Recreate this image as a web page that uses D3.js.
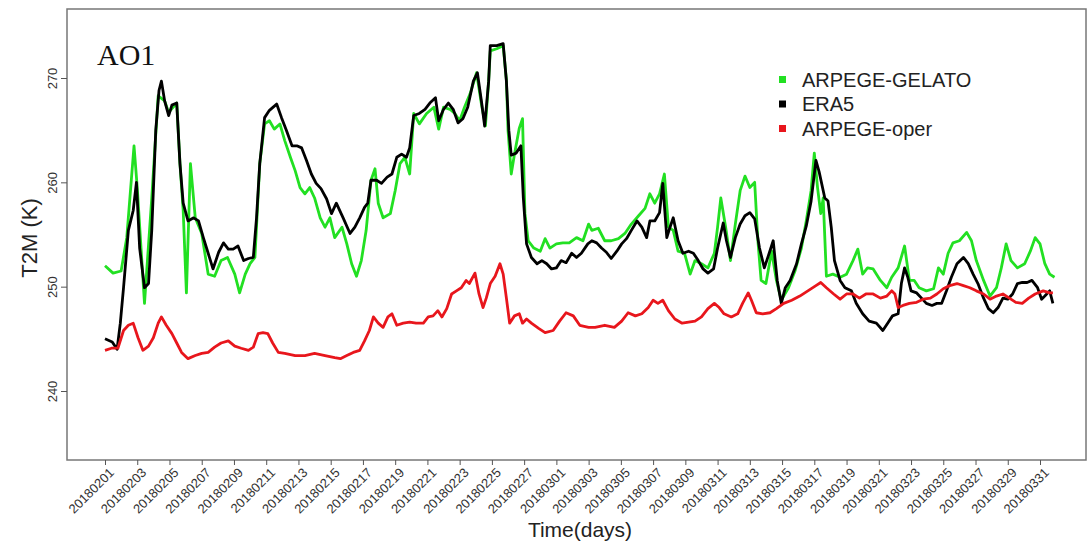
<!DOCTYPE html>
<html>
<head>
<meta charset="utf-8">
<script src="https://cdn.jsdelivr.net/npm/d3@7"></script>
<style>
	body { margin: 0; background: #fff; }
	text { font-family: "Liberation Sans", Arial, sans-serif; }
	text.serif { font-family: "Liberation Serif", "Times New Roman", serif; }
</style>
</head>
<body>
<div id="chart"></div>
<script>
'use strict';

// days since 20180201 00h, T2M in K
var gelato = [[0,252.0],[0.5,251.3],[1.0,251.5],[1.35,254.7],[1.8,263.5],[2.0,259.5],[2.45,248.4],[2.9,258.5],[3.3,268.3],[3.7,267.8],[3.95,266.7],[4.45,267.6],[4.65,261.8],[4.85,257.3],[5.05,249.4],[5.3,261.8],[5.6,256.6],[6.0,255.1],[6.4,251.2],[6.8,251.0],[7.2,252.5],[7.6,252.8],[8.05,251.2],[8.35,249.4],[8.7,251.2],[9.0,252.2],[9.3,252.8],[9.6,261.8],[9.9,265.6],[10.2,265.9],[10.5,265.1],[10.85,265.6],[11.15,264.0],[11.5,262.4],[11.8,261.1],[12.1,259.5],[12.4,258.9],[12.7,259.5],[13.0,258.5],[13.35,256.6],[13.65,255.7],[13.95,256.6],[14.25,254.7],[14.7,255.7],[15.0,254.1],[15.3,252.2],[15.6,251.0],[15.9,252.5],[16.2,255.4],[16.5,260.2],[16.75,261.3],[16.95,258.0],[17.25,256.6],[17.7,257.0],[18.0,259.2],[18.3,261.8],[18.6,262.4],[18.9,260.8],[19.15,266.6],[19.5,265.6],[19.95,266.6],[20.4,267.2],[20.7,265.1],[21.0,267.2],[21.4,267.0],[21.7,266.6],[22.0,265.9],[22.3,267.2],[22.65,268.5],[22.85,269.5],[23.05,270.5],[23.35,267.5],[23.6,265.4],[23.8,269.8],[23.9,272.6],[24.3,272.8],[24.7,273.1],[24.9,269.8],[25.0,265.0],[25.2,260.8],[25.4,262.7],[25.7,265.2],[25.9,266.1],[26.05,257.0],[26.25,254.4],[26.6,253.7],[27.0,253.4],[27.3,254.6],[27.6,253.7],[28.0,254.1],[28.4,254.2],[28.8,254.2],[29.25,254.7],[29.65,254.4],[30.0,256.0],[30.2,255.4],[30.6,255.6],[31.0,254.4],[31.4,254.4],[31.85,254.6],[32.25,255.1],[32.65,256.0],[33.1,256.8],[33.5,257.5],[33.8,258.9],[34.1,258.0],[34.4,258.9],[34.7,260.8],[34.95,255.7],[35.25,255.4],[35.55,253.4],[35.95,253.2],[36.3,251.2],[36.6,252.5],[37.0,252.2],[37.4,251.8],[37.8,253.2],[38.0,255.7],[38.2,258.5],[38.5,255.7],[38.8,252.5],[39.1,256.0],[39.4,259.2],[39.7,260.6],[40.0,259.5],[40.3,260.0],[40.5,254.4],[40.7,250.6],[41.0,250.3],[41.35,253.4],[41.65,250.6],[41.95,248.7],[42.4,249.9],[42.8,251.5],[43.2,253.7],[43.5,256.3],[43.8,259.2],[44.0,262.8],[44.2,259.5],[44.4,257.0],[44.55,258.5],[44.75,251.0],[45.15,251.2],[45.6,250.9],[46.0,251.2],[46.4,252.5],[46.7,253.6],[47.0,251.2],[47.3,251.8],[47.65,251.7],[48.1,250.6],[48.5,249.9],[48.8,250.9],[49.2,251.8],[49.6,253.9],[49.9,250.6],[50.2,250.6],[50.5,249.9],[50.95,249.6],[51.4,249.8],[51.7,251.8],[52.0,251.2],[52.3,253.2],[52.6,254.2],[53.0,254.4],[53.45,255.2],[53.75,254.4],[54.05,252.5],[54.5,250.6],[54.9,249.1],[55.3,249.9],[55.6,251.8],[55.9,254.1],[56.2,252.5],[56.6,251.8],[57.05,252.2],[57.4,253.4],[57.7,254.7],[58.0,254.1],[58.3,252.2],[58.6,251.2],[58.9,250.9]];

var era5 = [[0,245.0],[0.45,244.7],[0.75,244.0],[0.95,246.5],[1.15,249.9],[1.45,255.4],[1.75,257.3],[1.95,260.0],[2.15,253.7],[2.45,249.9],[2.7,250.3],[2.9,255.4],[3.15,265.0],[3.35,268.8],[3.5,269.7],[3.7,267.8],[3.95,266.4],[4.15,267.4],[4.45,267.6],[4.65,261.8],[4.85,258.0],[5.15,256.3],[5.5,256.6],[5.8,256.3],[6.1,254.7],[6.4,253.2],[6.7,251.7],[7.05,253.3],[7.35,254.2],[7.65,253.6],[7.95,253.6],[8.25,253.9],[8.6,252.5],[8.9,252.7],[9.2,252.8],[9.4,256.6],[9.6,261.8],[9.9,266.2],[10.2,266.9],[10.65,267.5],[10.95,266.2],[11.25,265.0],[11.6,263.5],[11.9,263.5],[12.2,263.3],[12.5,262.1],[12.8,260.8],[13.1,259.9],[13.4,259.4],[13.75,258.4],[14.05,257.0],[14.35,258.0],[14.8,256.5],[15.2,255.1],[15.5,255.7],[15.8,256.6],[16.1,257.6],[16.3,258.0],[16.5,260.2],[16.85,260.2],[17.15,259.9],[17.5,260.5],[17.8,260.8],[18.1,262.4],[18.4,262.7],[18.7,262.4],[18.9,263.3],[19.15,266.4],[19.5,266.6],[19.85,267.0],[20.15,267.6],[20.5,268.1],[20.7,265.9],[21.0,267.0],[21.3,267.6],[21.6,267.0],[21.9,265.7],[22.2,266.1],[22.5,267.2],[22.85,269.7],[23.1,270.5],[23.35,267.8],[23.55,265.4],[23.8,269.7],[23.9,273.1],[24.3,273.1],[24.7,273.3],[24.9,269.7],[25.05,265.0],[25.2,262.6],[25.5,262.8],[25.8,263.5],[25.95,258.5],[26.15,254.1],[26.45,252.8],[26.8,252.2],[27.1,252.5],[27.4,252.2],[27.7,251.7],[28.0,251.8],[28.3,252.5],[28.6,252.3],[28.95,253.2],[29.25,252.8],[29.55,253.2],[29.95,254.1],[30.2,254.4],[30.5,254.2],[30.8,253.7],[31.1,253.3],[31.4,252.7],[31.75,253.4],[32.05,254.1],[32.35,254.6],[32.65,255.4],[33.0,256.3],[33.3,255.7],[33.6,254.7],[33.8,256.3],[34.1,256.3],[34.4,257.1],[34.6,259.9],[34.85,254.7],[35.05,255.7],[35.25,256.6],[35.55,254.4],[35.85,253.2],[36.2,253.4],[36.5,253.2],[36.8,252.5],[37.1,251.7],[37.4,251.3],[37.75,251.7],[38.0,253.7],[38.35,256.1],[38.55,254.4],[38.8,252.8],[39.1,254.7],[39.4,256.0],[39.7,256.8],[40.0,257.1],[40.3,256.5],[40.6,253.7],[40.9,251.8],[41.2,253.2],[41.45,254.4],[41.7,250.6],[41.95,248.4],[42.2,249.9],[42.5,250.6],[42.9,252.2],[43.2,254.1],[43.5,255.8],[43.8,258.2],[44.1,262.1],[44.3,261.0],[44.65,258.5],[44.85,258.2],[45.05,255.7],[45.25,252.5],[45.6,250.6],[45.9,249.9],[46.3,249.6],[46.6,248.4],[47.0,247.4],[47.4,246.7],[47.85,246.5],[48.25,245.8],[48.55,246.5],[48.85,247.2],[49.2,247.4],[49.4,250.3],[49.6,251.8],[49.8,250.9],[50.0,249.6],[50.35,249.4],[50.65,248.9],[50.95,248.4],[51.3,248.2],[51.6,248.4],[51.9,248.4],[52.2,249.6],[52.5,250.9],[52.85,252.2],[53.25,252.8],[53.55,252.2],[53.85,251.2],[54.15,250.3],[54.5,248.9],[54.8,247.9],[55.1,247.5],[55.4,248.0],[55.7,248.9],[56.0,248.8],[56.3,249.3],[56.6,250.3],[56.9,250.4],[57.2,250.4],[57.5,250.6],[57.85,249.9],[58.1,248.8],[58.3,249.1],[58.6,249.6],[58.8,248.4]];

var oper = [[0,243.9],[0.4,244.1],[0.8,244.1],[1.15,245.8],[1.45,246.3],[1.75,246.5],[2.05,245.1],[2.35,243.9],[2.7,244.3],[3.0,245.1],[3.3,246.5],[3.5,247.1],[3.8,246.3],[4.15,245.5],[4.45,244.6],[4.75,243.7],[5.15,243.1],[5.6,243.4],[6.0,243.6],[6.4,243.7],[6.8,244.2],[7.2,244.6],[7.65,244.8],[8.05,244.3],[8.45,244.1],[8.9,243.9],[9.2,244.2],[9.5,245.5],[9.8,245.6],[10.1,245.5],[10.4,244.6],[10.75,243.7],[11.15,243.6],[11.8,243.4],[12.4,243.4],[13.0,243.6],[13.65,243.4],[14.25,243.2],[14.6,243.1],[15.0,243.4],[15.4,243.7],[15.8,243.9],[16.1,244.8],[16.4,245.8],[16.65,247.1],[16.95,246.5],[17.25,246.1],[17.55,247.1],[17.8,247.4],[18.1,246.3],[18.5,246.5],[18.9,246.6],[19.3,246.5],[19.75,246.5],[20.05,247.1],[20.35,247.2],[20.65,247.7],[20.9,247.1],[21.2,247.9],[21.5,249.3],[21.8,249.6],[22.1,249.9],[22.4,250.6],[22.6,250.3],[22.95,251.3],[23.2,249.3],[23.45,248.0],[23.65,248.9],[23.9,250.3],[24.2,251.0],[24.5,252.2],[24.7,251.2],[24.9,248.9],[25.1,246.5],[25.4,247.2],[25.7,247.4],[25.9,246.5],[26.15,246.9],[26.45,246.5],[26.9,246.0],[27.3,245.6],[27.8,245.8],[28.2,246.7],[28.6,247.5],[29.05,247.2],[29.45,246.3],[30.0,246.1],[30.4,246.1],[31.0,246.3],[31.6,246.1],[32.05,246.7],[32.45,247.5],[32.9,247.2],[33.3,247.4],[33.7,248.0],[34.0,248.7],[34.3,248.4],[34.6,248.7],[34.95,247.7],[35.35,246.9],[35.8,246.5],[36.2,246.6],[36.6,246.7],[37.0,247.1],[37.4,247.9],[37.8,248.4],[38.1,248.0],[38.4,247.4],[38.85,247.1],[39.25,247.4],[39.55,248.4],[39.9,249.4],[40.1,248.7],[40.4,247.5],[40.8,247.4],[41.25,247.5],[41.65,247.9],[42.1,248.4],[42.6,248.7],[43.1,249.1],[43.6,249.6],[44.1,250.1],[44.4,250.4],[44.75,249.9],[45.2,249.3],[45.6,248.8],[46.0,249.3],[46.4,249.3],[46.8,248.9],[47.2,249.3],[47.65,249.3],[48.1,248.9],[48.5,249.1],[48.8,249.6],[49.0,249.3],[49.2,248.0],[49.5,248.2],[49.9,248.4],[50.35,248.5],[50.75,248.8],[51.2,248.9],[51.6,249.3],[52.0,249.8],[52.4,250.1],[52.85,250.3],[53.25,250.1],[53.65,249.9],[54.05,249.6],[54.5,249.3],[54.9,248.8],[55.3,249.1],[55.7,249.3],[56.1,248.9],[56.5,248.5],[56.9,248.4],[57.3,248.9],[57.7,249.3],[58.2,249.6],[58.6,249.4],[58.8,249.4]];

var dateLabels = ["20180201","20180203","20180205","20180207","20180209","20180211","20180213","20180215","20180217","20180219","20180221","20180223","20180225","20180227","20180301","20180303","20180305","20180307","20180309","20180311","20180313","20180315","20180317","20180319","20180321","20180323","20180325","20180327","20180329","20180331"];
var dateDays = [0,2,4,6,8,10,12,14,16,18,20,22,24,26,28,30,32,34,36,38,40,42,44,46,48,50,52,54,56,58];
var yTicks = [240, 250, 260, 270];

var seriesNames = ["ARPEGE-GELATO", "ERA5", "ARPEGE-oper"];
var seriesColors = ["#22e022", "#000000", "#e8161c"];

var width = 1090, height = 543;
var box = { left : 67, top : 9, right : 1086, bottom : 460 };

var x = d3.scaleLinear().domain([0, 58]).range([105, 1040]);
var y = d3.scaleLinear().domain([240, 270]).range([391, 78]);

var svg = d3.select("#chart").//
append("svg").//
attr("width", width).//
attr("height", height);

// frame
svg.append("rect").//
attr("x", box.left).attr("y", box.top).//
attr("width", box.right - box.left).//
attr("height", box.bottom - box.top).//
attr("fill", "none").//
attr("stroke", "#777").//
attr("stroke-width", 1.5);

// y axis
var yAxis = svg.append("g").//
attr("transform", "translate(" + box.left + ",0)").//
call(d3.axisLeft(y).tickValues(yTicks).tickSize(6).tickSizeOuter(0));
yAxis.select(".domain").remove();
yAxis.selectAll("line").attr("stroke", "#555");
yAxis.selectAll("text").//
attr("font-size", 13).//
attr("fill", "#333").//
attr("x", -10).attr("y", 0).attr("dy", 0).//
attr("transform", "rotate(-90,-10,0)").//
attr("text-anchor", "middle");

// x axis
var xAxis = svg.append("g").//
attr("transform", "translate(0," + box.bottom + ")").//
call(d3.axisBottom(x).tickValues(dateDays).tickSize(5).tickSizeOuter(0).//
tickFormat(function(d, i) {
	return dateLabels[i];
}));
xAxis.select(".domain").remove();
xAxis.selectAll("line").attr("stroke", "#555");
xAxis.selectAll("text").//
attr("font-size", 13).//
attr("fill", "#333").//
attr("text-anchor", "end").//
attr("x", 3).attr("y", 7).attr("dy", "0.7em").//
attr("transform", "rotate(-45,3,7)");

// axis titles
svg.append("text").//
attr("x", 580).attr("y", 537).//
attr("text-anchor", "middle").//
attr("font-size", 21).//
attr("fill", "#222").//
text("Time(days)");

svg.append("text").//
attr("transform", "translate(37,238) rotate(-90)").//
attr("text-anchor", "middle").//
attr("font-size", 22).//
attr("fill", "#222").//
text("T2M (K)");

svg.append("text").//
attr("class", "serif").//
attr("x", 97).attr("y", 65).//
attr("font-size", 30).//
attr("fill", "#111").//
text("AO1");

// lines
var line = d3.line().//
x(function(d) { return x(d[0]); }).//
y(function(d) { return y(d[1]); });

[gelato, era5, oper].forEach(function(s, i) {
	svg.append("path").//
	datum(s).//
	attr("d", line).//
	attr("fill", "none").//
	attr("stroke", seriesColors[i]).//
	attr("stroke-width", 2.8).//
	attr("stroke-linejoin", "round");
});

// legend
var legend = svg.append("g").selectAll("g").//
data(seriesNames).enter().append("g").//
attr("transform", function(d, i) {
	return "translate(779," + (76 + i * 24.5) + ")";
});
legend.append("rect").//
attr("width", 7).attr("height", 7).//
attr("fill", function(d, i) { return seriesColors[i]; });
legend.append("text").//
attr("x", 23).attr("y", 10.5).//
attr("font-size", 20).//
attr("fill", "#222").//
text(function(d) { return d; });
</script>
</body>
</html>
